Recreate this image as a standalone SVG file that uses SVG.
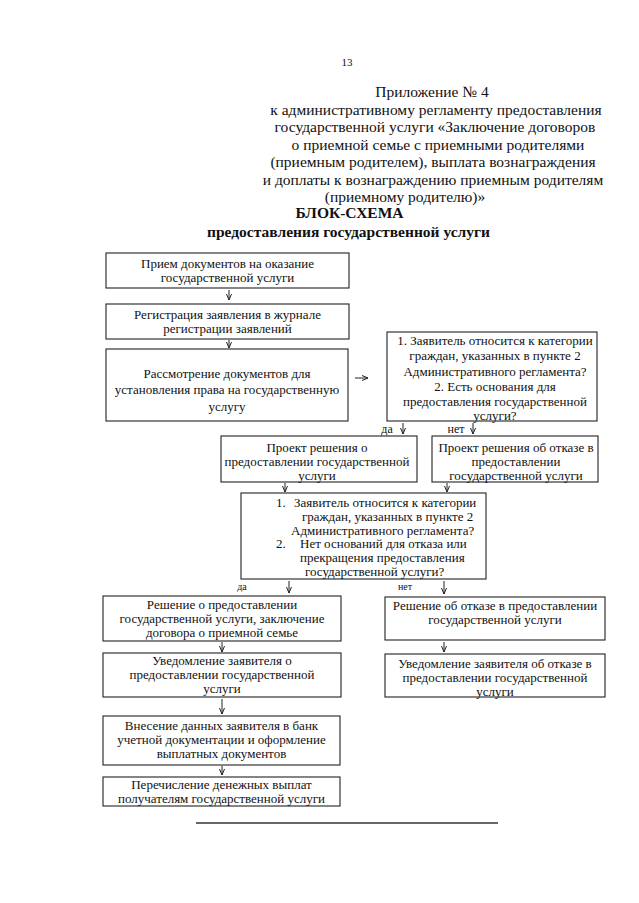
<svg xmlns="http://www.w3.org/2000/svg" width="639" height="903" viewBox="0 0 639 903">
<style>
text{font-family:"Liberation Serif","Times New Roman",serif;fill:#111}
.h{font-size:15.5px;text-anchor:middle}
.hb{font-size:15.5px;font-weight:bold;text-anchor:middle}
.t{font-size:13px;text-anchor:middle}
.s{font-size:13px}
.l{font-size:12px;text-anchor:middle}
.ls{font-size:10px;text-anchor:middle}
.box{fill:none;stroke:#222;stroke-width:1.1}
.c{stroke:#222;stroke-width:1;fill:none}
</style>
<defs>
<marker id="ah" viewBox="0 0 6 6" refX="6" refY="3" markerWidth="6" markerHeight="6" orient="auto" markerUnits="userSpaceOnUse">
<path d="M0,0.5 L6,3 L0,5.5" fill="none" stroke="#222" stroke-width="1"/>
</marker>
</defs>
<rect width="639" height="903" fill="#fff"/>
<g id="header">
<text x="347" y="66" style="font-size:11px;text-anchor:middle">13</text>
<text class="h" x="432" y="97">Приложение № 4</text>
<text class="h" x="436" y="114.5">к административному регламенту предоставления</text>
<text class="h" x="435" y="132">государственной услуги «Заключение договоров</text>
<text class="h" x="438" y="149.5">о приемной семье с приемными родителями</text>
<text class="h" x="433" y="167">(приемным родителем), выплата вознаграждения</text>
<text class="h" x="433" y="184.5">и доплаты к вознаграждению приемным родителям</text>
<text class="h" x="405" y="201.5">(приемному родителю)»</text>
<text class="hb" x="349.5" y="218">БЛОК-СХЕМА</text>
<text class="hb" x="348.5" y="237">предоставления государственной услуги</text>
</g>
<g id="n1">
<rect class="box" x="106" y="253" width="243" height="35"/>
<text class="t" x="227.5" y="267.5">Прием документов на оказание</text>
<text class="t" x="227.5" y="281.5">государственной услуги</text>
</g>
<g id="n2">
<rect class="box" x="106" y="304" width="243" height="35"/>
<text class="t" x="227.5" y="318.5">Регистрация заявления в журнале</text>
<text class="t" x="227.5" y="332.5">регистрации заявлений</text>
</g>
<g id="n3">
<rect class="box" x="106" y="349" width="242" height="72"/>
<text class="t" x="227" y="377.5">Рассмотрение документов для</text>
<text class="t" x="227" y="394">установления права на государственную</text>
<text class="t" x="227" y="410.5">услугу</text>
</g>
<g id="n4">
<rect class="box" x="387" y="332" width="210" height="89"/>
<text class="t" x="495" y="344.5">1. Заявитель относится к категории</text>
<text class="t" x="495" y="360">граждан, указанных в пункте 2</text>
<text class="t" x="495" y="375.5">Административного регламента?</text>
<text class="t" x="495" y="390.5">2. Есть основания для</text>
<text class="t" x="495" y="405.5">предоставления государственной</text>
<text class="t" x="495" y="420">услуги?</text>
</g>
<g id="n5">
<rect class="box" x="221" y="436" width="196" height="46"/>
<text class="t" x="317" y="451.5">Проект решения о</text>
<text class="t" x="317" y="465.5">предоставлении государственной</text>
<text class="t" x="317" y="479.5">услуги</text>
</g>
<g id="n6">
<rect class="box" x="432" y="436" width="166" height="46"/>
<text class="t" x="516" y="451.5">Проект решения об отказе в</text>
<text class="t" x="516" y="465.5">предоставлении</text>
<text class="t" x="516" y="479.5">государственной услуги</text>
</g>
<g id="n7">
<rect class="box" x="241" y="493" width="245" height="86"/>
<text class="s" x="276" y="507">1.</text>
<text class="s" x="294" y="507">Заявитель относится к категории</text>
<text class="s" x="302" y="520.8">граждан, указанных в пункте 2</text>
<text class="s" x="291" y="534.6">Административного регламента?</text>
<text class="s" x="276" y="548.4">2.</text>
<text class="s" x="300" y="548.4">Нет оснований для отказа или</text>
<text class="s" x="300" y="562.2">прекращения предоставления</text>
<text class="s" x="305" y="576">государственной услуги?</text>
</g>
<g id="n8">
<rect class="box" x="103" y="596" width="238" height="45"/>
<text class="t" x="222" y="609">Решение о предоставлении</text>
<text class="t" x="222" y="623">государственной услуги, заключение</text>
<text class="t" x="222" y="637">договора о приемной семье</text>
</g>
<g id="n9">
<rect class="box" x="103" y="653" width="238" height="44"/>
<text class="t" x="222" y="665">Уведомление заявителя о</text>
<text class="t" x="222" y="679">предоставлении государственной</text>
<text class="t" x="222" y="693">услуги</text>
</g>
<g id="n10">
<rect class="box" x="385" y="597" width="220" height="43"/>
<text class="t" x="495" y="609.5">Решение об отказе в предоставлении</text>
<text class="t" x="495" y="623.5">государственной услуги</text>
</g>
<g id="n11">
<rect class="box" x="385" y="654" width="220" height="43"/>
<text class="t" x="495" y="667.5">Уведомление заявителя об отказе в</text>
<text class="t" x="495" y="681.5">предоставлении государственной</text>
<text class="t" x="495" y="695.5">услуги</text>
</g>
<g id="n12">
<rect class="box" x="103" y="716" width="237" height="49"/>
<text class="t" x="221.5" y="729.5">Внесение данных заявителя в банк</text>
<text class="t" x="221.5" y="743.5">учетной документации и оформление</text>
<text class="t" x="221.5" y="757.5">выплатных документов</text>
</g>
<g id="n13">
<rect class="box" x="103" y="777" width="237" height="29"/>
<text class="t" x="221.5" y="789">Перечисление денежных выплат</text>
<text class="t" x="221.5" y="803">получателям государственной услуги</text>
</g>
<g id="connectors">
<line class="c" x1="229" y1="290" x2="229" y2="300" marker-end="url(#ah)"/>
<line class="c" x1="229" y1="340" x2="229" y2="348" marker-end="url(#ah)"/>
<line class="c" x1="355" y1="378" x2="368" y2="378" marker-end="url(#ah)"/>
<line class="c" x1="403" y1="423" x2="403" y2="434" marker-end="url(#ah)"/>
<line class="c" x1="473" y1="423" x2="473" y2="434" marker-end="url(#ah)"/>
<line class="c" x1="285" y1="483" x2="285" y2="492" marker-end="url(#ah)"/>
<line class="c" x1="447" y1="483" x2="447" y2="492" marker-end="url(#ah)"/>
<line class="c" x1="289" y1="581" x2="289" y2="593" marker-end="url(#ah)"/>
<line class="c" x1="444" y1="581" x2="444" y2="594" marker-end="url(#ah)"/>
<line class="c" x1="222" y1="642" x2="222" y2="652" marker-end="url(#ah)"/>
<line class="c" x1="444" y1="642" x2="444" y2="652" marker-end="url(#ah)"/>
<line class="c" x1="222" y1="699" x2="222" y2="714" marker-end="url(#ah)"/>
<line class="c" x1="222" y1="766" x2="222" y2="775" marker-end="url(#ah)"/>
<text class="l" x="387" y="433">да</text>
<text class="l" x="456" y="433">нет</text>
<text class="ls" x="242" y="590">да</text>
<text class="ls" x="405" y="590">нет</text>
</g>
<line x1="196" y1="823" x2="498" y2="823" stroke="#333" stroke-width="1.5"/>
</svg>
